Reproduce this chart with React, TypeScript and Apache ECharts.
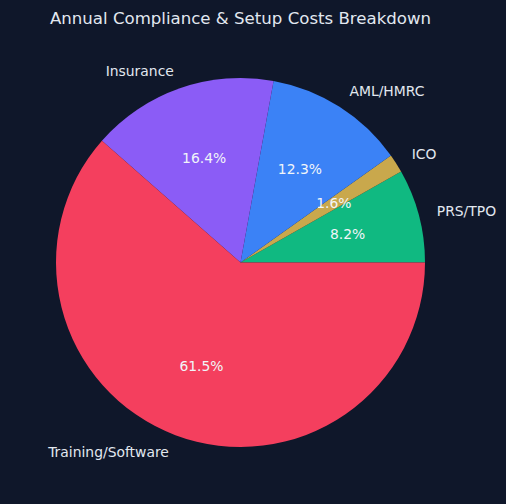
import React, { useEffect, useRef } from "react";
import * as echarts from "echarts";

const categories = ["PRS/TPO", "ICO", "AML/HMRC", "Insurance", "Training/Software"];
const costs = [200, 40, 300, 400, 1500];
const colors = ["#10b981", "#c9a84c", "#3b82f6", "#8b5cf6", "#f43f5e"];
const titleText = "Annual Compliance & Setup Costs Breakdown";

export default function App() {
  const ref = useRef<HTMLDivElement>(null);
  useEffect(() => {
    if (!ref.current) return;
    const chart = echarts.init(ref.current, null, { renderer: "svg" });
    const total = costs.reduce((a, b) => a + b, 0);
    const data = categories.map((name, i) => ({
      name,
      value: costs[i],
      itemStyle: { color: colors[i] },
    }));
    const R = 184.5;
    const center = [240.5, 262.5];
    const font = "DejaVu Sans";
    chart.setOption({
      animation: false,
      backgroundColor: "#0f172a",
      graphic: [
        {
          type: "text",
          x: 240.5,
          y: 18,
          style: {
            text: titleText,
            fill: "#e2e8f0",
            font: `16.6px '${font}'`,
            textAlign: "center",
            textVerticalAlign: "middle",
          },
        },
      ],
      series: [
        {
          type: "pie",
          center,
          radius: [0, R],
          startAngle: 0,
          clockwise: false,
          avoidLabelOverlap: false,
          silent: true,
          data,
          itemStyle: { borderWidth: 0 },
          label: {
            show: true,
            position: "outside",
            color: "#e2e8f0",
            fontFamily: font,
            fontSize: 13.9,
            distanceToLabelLine: 0,
            formatter: "{b}",
          },
          labelLine: { show: false, length: R * 0.1, length2: 0 },
        },
        {
          type: "pie",
          center,
          // ECharts pushes inside labels 3px outward; compensate so labels sit at 0.6R
          radius: [0, R * 1.2 - 6],
          startAngle: 0,
          clockwise: false,
          avoidLabelOverlap: false,
          silent: true,
          data: data.map((d) => ({ ...d, itemStyle: { color: "rgba(0,0,0,0)" } })),
          label: {
            show: true,
            position: "inside",
            color: "#f1f5f9",
            fontFamily: font,
            fontSize: 13.9,
            formatter: (p: any) => ((p.value / total) * 100).toFixed(1) + "%",
          },
          labelLine: { show: false },
        },
      ],
    });
    return () => chart.dispose();
  }, []);
  return (
    <div
      ref={ref}
      style={{ position: "fixed", left: 0, top: 0, width: 506, height: 504 }}
    />
  );
}
